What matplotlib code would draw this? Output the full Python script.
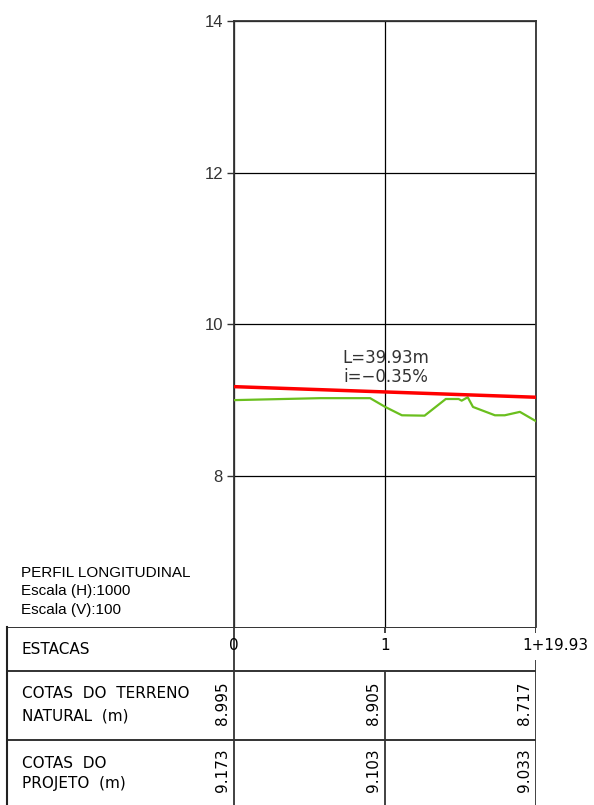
import numpy as np
import matplotlib
matplotlib.use("Agg")
import matplotlib.pyplot as plt

# station data
stations = [0.0, 20.0, 39.93]
station_labels = ["0", "1", "1+19.93"]
terrain_at_station = [8.995, 8.905, 8.717]
project_at_station = [9.173, 9.103, 9.033]

# terrain profile
terrain_x = [0.0, 11.4, 18.0, 20.0, 22.2, 25.2, 28.0, 29.7, 30.1, 30.9,
             31.6, 34.5, 35.8, 37.8, 39.93]
terrain_y = [8.995, 9.021, 9.021, 8.905, 8.795, 8.790, 9.010, 9.010, 8.988,
             9.033, 8.905, 8.795, 8.795, 8.840, 8.717]

y_ticks = [8, 10, 12, 14]

W, H = 594, 805


def px_rect(x0, y0, x1, y1):
    return [x0 / W, 1 - y1 / H, (x1 - x0) / W, (y1 - y0) / H]


fig = plt.figure(figsize=(W / 100, H / 100), dpi=100)

# profile
ax = fig.add_axes(px_rect(234, 21, 536, 627))
ax.set_xlim(stations[0], stations[-1])
ax.set_ylim(6, 14)
ax.set_xticks(stations)
ax.set_yticks(y_ticks)
ax.set_yticklabels([str(t) for t in y_ticks], family="Liberation Sans",
                   fontsize=12, color="#333333")
ax.tick_params(axis="x", length=0, labelbottom=False)
ax.tick_params(axis="y", length=5, width=1, pad=3, color="#333333")
ax.grid(True, color="black", linewidth=0.9)
for side in ["top", "right", "left"]:
    ax.spines[side].set_color("#333333")
    ax.spines[side].set_linewidth(1.3)
ax.spines["bottom"].set_visible(False)

ax.plot(terrain_x, terrain_y, color="#6abf1e", linewidth=1.6, zorder=3)
ax.plot(stations, project_at_station, color="#ff0000", linewidth=2.5, zorder=4)

L = stations[-1] - stations[0]
slope = (project_at_station[-1] - project_at_station[0]) / L * 100
ax.text(20.1, 9.55, f"L={L:.2f}m", ha="center", va="center", fontsize=12,
        color="#333333", zorder=5)
ax.text(20.1, 9.30, f"i={slope:.2f}%".replace("-", "\u2212"), ha="center",
        va="center", fontsize=12, color="#333333", zorder=5)

# table under the profile
px_per_m = (536 - 234) / L
tab = fig.add_axes(px_rect(7, 627, 536, 805))
tab.set_xlim(stations[0] - (234 - 7) / px_per_m, stations[-1])
tab.set_ylim(178, 0)
tab.set_xticks([])
tab.set_yticks([])
for side in ["top", "right", "bottom"]:
    tab.spines[side].set_visible(False)
tab.spines["left"].set_linewidth(1.5)
tab.spines["left"].set_color("#222222")
tab.patch.set_alpha(0)

x0, x1 = tab.get_xlim()
for yy in [0, 44, 113]:
    tab.hlines(yy, x0, x1, color="#222222", linewidth=1.3)

gap_end = [0, 44, 33]
for s, g in zip(stations, gap_end):
    if g == 0:
        tab.vlines(s, 0, 178, color="#333333", linewidth=1.3)
    else:
        tab.vlines(s, 0, 6, color="#333333", linewidth=1.3)
        tab.vlines(s, g, 178, color="#333333", linewidth=1.3)

ylab = tab.get_yaxis_transform()
tab.text(0.028, 22, "ESTACAS", transform=ylab, va="center", fontsize=11)
tab.text(0.028, 66, "COTAS  DO  TERRENO", transform=ylab, va="center", fontsize=11)
tab.text(0.028, 89, "NATURAL  (m)", transform=ylab, va="center", fontsize=11)
tab.text(0.028, 136, "COTAS  DO", transform=ylab, va="center", fontsize=11)
tab.text(0.028, 156, "PROJETO  (m)", transform=ylab, va="center", fontsize=11)

for s, lab in zip(stations, station_labels):
    if lab == station_labels[-1]:
        tab.annotate(lab, (s, 18), xytext=(-14, 0), textcoords="offset pixels",
                     ha="left", va="center", fontsize=11)
    else:
        tab.annotate(lab, (s, 18), ha="center", va="center", fontsize=11)

for s, tv, pv in zip(stations, terrain_at_station, project_at_station):
    tab.annotate(f"{tv:.3f}", (s, 76), xytext=(-4, 0), textcoords="offset pixels",
                 rotation=90, ha="right", va="center", fontsize=11)
    tab.annotate(f"{pv:.3f}", (s, 143), xytext=(-4, 0), textcoords="offset pixels",
                 rotation=90, ha="right", va="center", fontsize=11)

# title block
fig.text(21 / W, 1 - 573 / H, "PERFIL LONGITUDINAL", family="Liberation Sans",
         fontsize=11, va="center")
fig.text(21 / W, 1 - 591 / H, "Escala (H):1000", family="Liberation Sans",
         fontsize=11, va="center")
fig.text(21 / W, 1 - 610 / H, "Escala (V):100", family="Liberation Sans",
         fontsize=11, va="center")

fig.savefig("out.png", dpi=100)
